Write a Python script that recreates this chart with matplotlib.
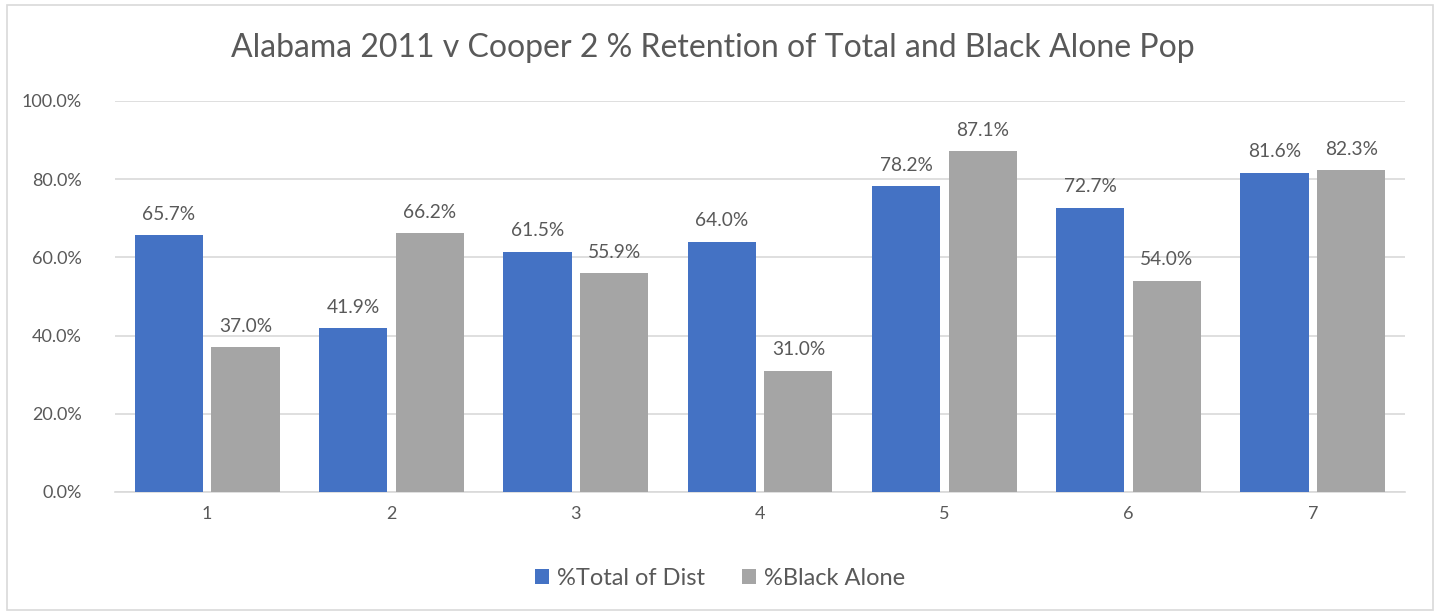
import matplotlib.pyplot as plt
import numpy as np
from matplotlib.patches import Rectangle

# District numbers and retention values (%)
districts = ['1', '2', '3', '4', '5', '6', '7']
total_of_dist = [65.7, 41.9, 61.5, 64.0, 78.2, 72.7, 81.6]
black_alone = [37.0, 66.2, 55.9, 31.0, 87.1, 54.0, 82.3]

plt.rcParams['font.family'] = ['Lato', 'DejaVu Sans']
text_color = '#595959'

fig = plt.figure(figsize=(14.4, 6.15), dpi=100)
ax = fig.add_axes([0.0799, 0.2, 0.8958, 0.6358])

# Light frame round the whole chart
fig.patches.append(Rectangle((0.005, 0.008), 0.99, 0.984, transform=fig.transFigure,
                             fill=False, edgecolor='#d9d9d9', linewidth=1.2))

x = np.arange(len(districts))
w = 0.37
b1 = ax.bar(x - 0.208, total_of_dist, w, color='#4472C4', label='%Total of Dist', zorder=3)
b2 = ax.bar(x + 0.208, black_alone, w, color='#A5A5A5', label='%Black Alone', zorder=3)

for bars in (b1, b2):
    ax.bar_label(bars, labels=[f'{v.get_height():.1f}%' for v in bars], padding=9,
                 fontsize=13.8, color=text_color)

ax.set_xlim(-0.5, len(districts) - 0.5)
ax.set_ylim(0, 100)
ax.set_yticks(np.arange(0, 101, 20))
ax.set_yticklabels([f'{v:.1f}%' for v in np.arange(0, 101, 20)])
ax.set_xticks(x)
ax.set_xticklabels(districts)
ax.tick_params(axis='both', length=0, labelsize=13, labelcolor=text_color)
ax.tick_params(axis='y', pad=24)
ax.tick_params(axis='x', pad=10)

ax.grid(axis='y', color='#d9d9d9', linewidth=1.2, zorder=0)
for side in ['top', 'right', 'left']:
    ax.spines[side].set_visible(False)
ax.spines['bottom'].set_color('#d9d9d9')
ax.spines['bottom'].set_linewidth(1.2)

fig.text(0.495, 0.922, 'Alabama 2011 v Cooper 2 % Retention of Total and Black Alone Pop',
         ha='center', va='center', fontsize=23, color=text_color)

fig.legend(loc='center', bbox_to_anchor=(0.5, 0.06), ncol=2, frameon=False,
           fontsize=17, labelcolor=text_color, handlelength=0.6, handleheight=0.6,
           handletextpad=0.3, columnspacing=1.6)

fig.savefig('out.png', dpi=100)
